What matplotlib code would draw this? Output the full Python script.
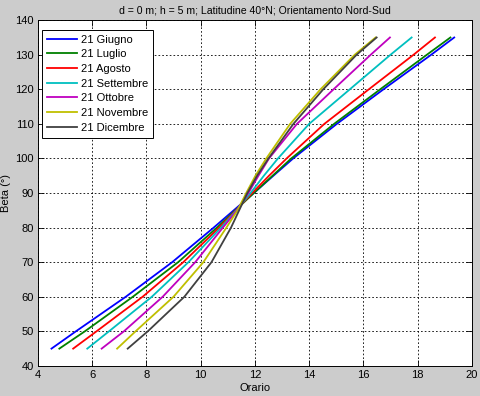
import numpy as np
import matplotlib
matplotlib.use('Agg')
import matplotlib.pyplot as plt

plt.rcParams['font.family'] = ['Liberation Sans', 'DejaVu Sans']
plt.rcParams['font.size'] = 8

# beta levels (deg) at which the hour was read for each curve
beta = [45, 50, 60, 70, 80, 85, 90, 95, 100, 110, 120, 130, 135]

giugno    = [4.50, 5.40, 7.24, 8.95, 10.48, 11.22, 11.96, 12.68, 13.41, 15.02, 16.74, 18.50, 19.35]
luglio    = [4.79, 5.73, 7.50, 9.17, 10.60, 11.28, 11.96, 12.65, 13.34, 14.92, 16.62, 18.34, 19.21]
agosto    = [5.30, 6.16, 7.86, 9.36, 10.68, 11.30, 11.90, 12.52, 13.17, 14.56, 16.20, 17.85, 18.64]
settembre = [5.82, 6.62, 8.20, 9.55, 10.75, 11.32, 11.84, 12.33, 12.85, 14.00, 15.50, 17.00, 17.78]
ottobre   = [6.35, 7.17, 8.60, 9.80, 10.82, 11.34, 11.76, 12.13, 12.52, 13.55, 14.90, 16.27, 16.98]
novembre  = [6.92, 7.60, 9.00, 10.10, 10.95, 11.36, 11.68, 12.02, 12.42, 13.30, 14.42, 15.68, 16.45]
dicembre  = [7.31, 8.05, 9.40, 10.40, 11.12, 11.42, 11.72, 12.08, 12.50, 13.42, 14.52, 15.75, 16.49]

series = [giugno, luglio, agosto, settembre, ottobre, novembre, dicembre]
labels = ['21 Giugno', '21 Luglio', '21 Agosto', '21 Settembre',
          '21 Ottobre', '21 Novembre', '21 Dicembre']
colors = [(0, 0, 1), (0, 0.5, 0), (1, 0, 0), (0, 0.75, 0.75),
          (0.75, 0, 0.75), (0.75, 0.75, 0), (0.25, 0.25, 0.25)]

fig = plt.figure(figsize=(4.8, 3.96), dpi=100, facecolor='#cccccc')
ax = fig.add_axes([0.079, 0.076, 0.904, 0.873])
ax.set_facecolor('white')

for xs, lab, c in zip(series, labels, colors):
    ax.plot(xs, beta, color=c, lw=1.3, label=lab)

ax.set_xlim(4, 20)
ax.set_ylim(40, 140)
ax.set_xticks(np.arange(4, 21, 2))
ax.set_yticks(np.arange(40, 141, 10))
ax.grid(True, color='black', linestyle=(0, (2, 2.5)), linewidth=0.6)
ax.tick_params(direction='in', top=True, right=True, length=4, width=0.6,
               labelsize=8, pad=3)
for s in ax.spines.values():
    s.set_linewidth(0.7)

ax.set_title('d = 0 m; h = 5 m; Latitudine 40°N; Orientamento Nord-Sud',
             fontsize=7.6, pad=5)
ax.set_xlabel('Orario', fontsize=8, labelpad=2)
ax.set_ylabel('Beta (°)', fontsize=8, labelpad=3)

leg = ax.legend(loc='upper left', fontsize=8, fancybox=False, framealpha=1,
                edgecolor='black', handlelength=2.7, handletextpad=0.35,
                labelspacing=0.42, borderaxespad=0.6, borderpad=0.45,
                bbox_to_anchor=(-0.006, 0.992))
leg.get_frame().set_linewidth(0.7)

fig.savefig('out.png', dpi=100, facecolor=fig.get_facecolor())
